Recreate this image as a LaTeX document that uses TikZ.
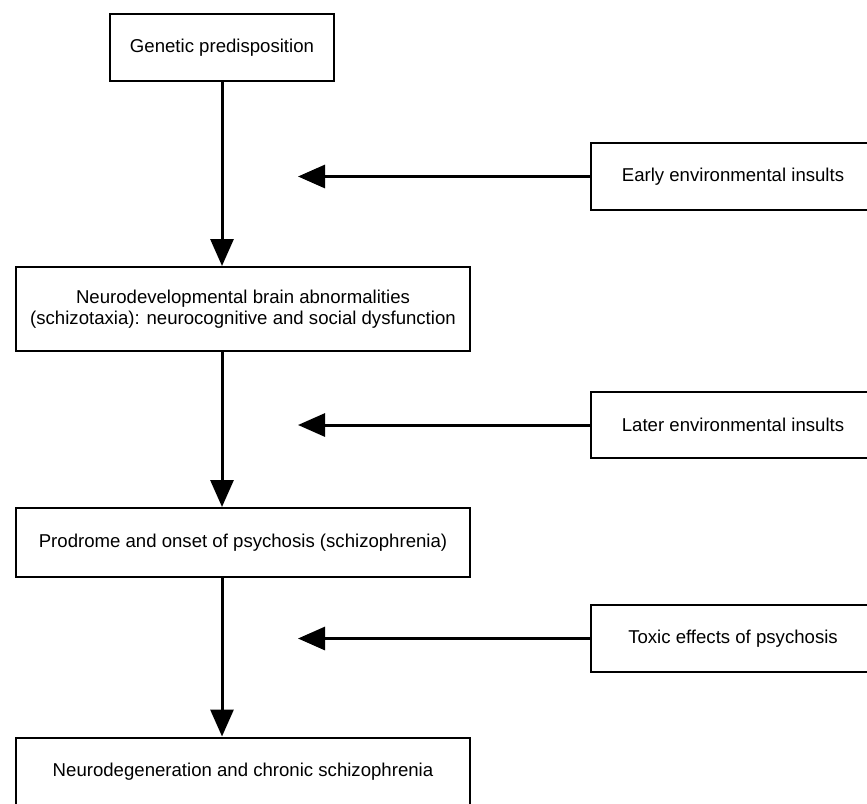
\documentclass[tikz,border=0pt]{standalone}
\usepackage{fontspec}
\setmainfont{Liberation Sans}
\usetikzlibrary{arrows.meta}
\begin{document}
\begin{tikzpicture}[x=0.5pt,y=-0.5pt,
	stage/.style={draw,line width=1pt,align=center,inner sep=0pt,
		font=\fontsize{9.3}{10.5}\selectfont},
	flow/.style={line width=1.5pt,-{Triangle[length=13.5pt,width=11.5pt]}}]
\useasboundingbox (0,0) rectangle (867,803);
\begin{scope}
\clip (0,0) rectangle (867,803);
% main sequence
\node[stage,minimum width=112pt,minimum height=33.5pt] (genetic) at (222,47.5) {Genetic predisposition};
\node[stage,minimum width=227pt,minimum height=42pt] (neurodev) at (243,309)
	{Neurodevelopmental brain abnormalities\\(schizotaxia): neurocognitive and social dysfunction};
\node[stage,minimum width=227pt,minimum height=34.5pt] (prodrome) at (243,542.5)
	{Prodrome and onset of psychosis (schizophrenia)};
\node[stage,minimum width=227pt,minimum height=34.5pt] (chronic) at (243,772)
	{Neurodegeneration and chronic schizophrenia};
% insults
\node[stage,minimum width=142pt,minimum height=33.5pt] (early) at (733,176.5) {Early environmental insults};
\node[stage,minimum width=142pt,minimum height=33pt] (later) at (733,425) {Later environmental insults};
\node[stage,minimum width=142pt,minimum height=33.5pt] (toxic) at (733,638.5) {Toxic effects of psychosis};
\coordinate (tip) at (298,0);
\draw[flow] (genetic.south) -- (genetic.south |- neurodev.north);
\draw[flow] (genetic.south |- neurodev.south) -- (genetic.south |- prodrome.north);
\draw[flow] (genetic.south |- prodrome.south) -- (genetic.south |- chronic.north);
\foreach \n in {early,later,toxic}
\draw[flow] (\n.west) -- (\n.west -| tip);
\end{scope}
\end{tikzpicture}
\end{document}
